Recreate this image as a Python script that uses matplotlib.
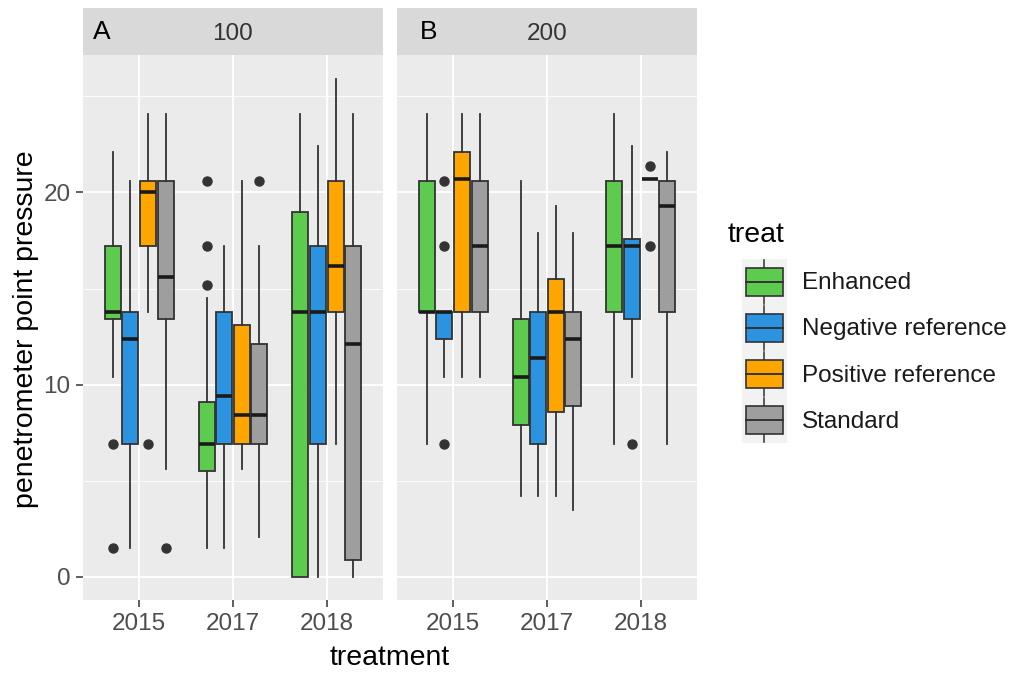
import matplotlib.pyplot as plt
from matplotlib.patches import Rectangle
from matplotlib.ticker import MultipleLocator

plt.rcParams['font.family'] = ['Liberation Sans', 'DejaVu Sans']

years = ['2015', '2017', '2018']
treats = ['Enhanced', 'Negative reference', 'Positive reference', 'Standard']
colors = ['#5DCB4D', '#2C93E0', '#FFA500', '#9E9E9E']
panels = ['100', '200']
panel_tags = ['A', 'B']

# panel 100 -- rows are years, columns are treats
a_whislo = [[10.4, 1.5, 13.8, 5.6], [1.5, 1.5, 5.6, 2.1], [0.0, 0.0, 6.9, 0.0]]
a_q1 = [[13.4, 6.9, 17.2, 13.4], [5.5, 6.9, 6.9, 6.9], [0.0, 6.9, 13.8, 0.9]]
a_med = [[13.8, 12.4, 20.0, 15.6], [6.9, 9.4, 8.4, 8.4], [13.8, 13.8, 16.2, 12.1]]
a_q3 = [[17.2, 13.8, 20.6, 20.6], [9.1, 13.8, 13.1, 12.1], [19.0, 17.2, 20.6, 17.2]]
a_whishi = [[22.1, 20.6, 24.1, 24.1], [14.5, 17.2, 20.6, 17.2], [24.1, 22.4, 25.9, 24.1]]
a_fliers = [[[6.9, 1.5], [], [6.9], [1.5]],
            [[20.6, 17.2, 15.2], [], [], [20.6]],
            [[], [], [], []]]

# panel 200
b_whislo = [[6.9, 10.4, 10.4, 10.4], [4.2, 4.2, 4.2, 3.5], [6.9, 10.4, 20.7, 6.9]]
b_q1 = [[13.8, 12.4, 13.8, 13.8], [7.9, 6.9, 8.6, 8.9], [13.8, 13.4, 20.7, 13.8]]
b_med = [[13.8, 13.8, 20.7, 17.2], [10.4, 11.4, 13.8, 12.4], [17.2, 17.2, 20.7, 19.3]]
b_q3 = [[20.6, 13.8, 22.1, 20.6], [13.4, 13.8, 15.5, 13.8], [20.6, 17.6, 20.7, 20.6]]
b_whishi = [[24.1, 13.8, 24.1, 24.1], [20.6, 17.9, 19.3, 17.9], [24.1, 22.4, 20.7, 22.1]]
b_fliers = [[[], [20.6, 17.2, 6.9], [], []],
            [[], [], [], []],
            [[], [6.9], [21.4, 17.2], []]]

panel_data = [
    (a_whislo, a_q1, a_med, a_q3, a_whishi, a_fliers),
    (b_whislo, b_q1, b_med, b_q3, b_whishi, b_fliers),
]

W, H = 1012, 677
fig = plt.figure(figsize=(W / 100, H / 100), dpi=100)

def fbox(x0, y0, x1, y1):
    # pixel box (top-left origin) -> figure fraction
    return [x0 / W, 1 - y1 / H, (x1 - x0) / W, (y1 - y0) / H]

panel_x = [(83, 383), (397, 697)]
offsets = [-0.28125, -0.09375, 0.09375, 0.28125]
tick_col = '#4D4D4D'

for p, (x0, x1) in enumerate(panel_x):
    ax = fig.add_axes(fbox(x0, 55, x1, 600))
    ax.set_facecolor('#EBEBEB')
    whislo, q1, med, q3, whishi, fliers = panel_data[p]
    for j in range(len(treats)):
        stats = []
        pos = []
        for i in range(len(years)):
            stats.append(dict(whislo=whislo[i][j], q1=q1[i][j], med=med[i][j],
                              q3=q3[i][j], whishi=whishi[i][j], fliers=fliers[i][j]))
            pos.append(i + 1 + offsets[j])
        ax.bxp(stats, positions=pos, widths=0.17, patch_artist=True,
               showcaps=False, manage_ticks=False,
               boxprops=dict(facecolor=colors[j], edgecolor='#333333', linewidth=1.3),
               whiskerprops=dict(color='#333333', linewidth=1.3),
               medianprops=dict(color='#1A1A1A', linewidth=2.6),
               flierprops=dict(marker='o', markerfacecolor='#333333',
                               markeredgecolor='#333333', markersize=6.5),
               zorder=3)
    ax.set_xlim(0.4, 3.6)
    ax.set_ylim(-1.2, 27.15)
    ax.set_xticks([1, 2, 3])
    ax.set_xticklabels(years)
    ax.yaxis.set_major_locator(MultipleLocator(10))
    ax.yaxis.set_minor_locator(MultipleLocator(5))
    ax.grid(which='major', color='white', linewidth=1.3, zorder=0)
    ax.grid(which='minor', axis='y', color='white', linewidth=0.6, zorder=0)
    ax.set_axisbelow(True)
    for s in ax.spines.values():
        s.set_visible(False)
    ax.tick_params(axis='both', which='major', length=5, width=1.1, color='#333333',
                   labelcolor=tick_col, labelsize=17.5, pad=4)
    ax.tick_params(axis='y', which='minor', length=0)
    if p == 1:
        ax.tick_params(axis='y', which='both', left=False, labelleft=False)

    # strip
    sx = fig.add_axes(fbox(x0, 8, x1, 55))
    sx.set_facecolor('#D9D9D9')
    sx.set_xticks([])
    sx.set_yticks([])
    for s in sx.spines.values():
        s.set_visible(False)
    sx.text(0.5, 0.45, panels[p], ha='center', va='center', fontsize=17.5, color='#333333',
            transform=sx.transAxes)

fig.text(93 / W, 1 - 32 / H, 'A', ha='left', va='center', fontsize=19, color='black')
fig.text(420 / W, 1 - 32 / H, 'B', ha='left', va='center', fontsize=19, color='black')

fig.text(390 / W, 1 - 658 / H, 'treatment', ha='center', va='center', fontsize=20.5, color='black')
fig.text(26 / W, 1 - 329 / H, 'penetrometer point pressure', ha='center', va='center',
         rotation=90, fontsize=20.5, color='black')

# legend
fig.text(728 / W, 1 - 235 / H, 'treat', ha='left', va='center', fontsize=20.5, color='black')
lg = fig.add_axes(fbox(742, 259, 787, 443))
lg.set_xlim(0, 1)
lg.set_ylim(len(treats), 0)
lg.set_facecolor('#F2F2F2')
lg.set_xticks([])
lg.set_yticks([])
for s in lg.spines.values():
    s.set_visible(False)
for k, name in enumerate(treats):
    lg.plot([0.5, 0.5], [k + 0.02, k + 0.98], color='#333333', lw=1.1)
    lg.add_patch(Rectangle((0.09, k + 0.2), 0.82, 0.6, facecolor=colors[k],
                           edgecolor='#333333', lw=1.2, zorder=3))
    lg.plot([0.09, 0.91], [k + 0.5, k + 0.5], color='#333333', lw=1.4, zorder=4)
    fig.text(802 / W, 1 - (283 + k * 46.5) / H, name, ha='left', va='center',
             fontsize=17.5, color='#1A1A1A')

fig.savefig('out.png', dpi=100, facecolor='white')
